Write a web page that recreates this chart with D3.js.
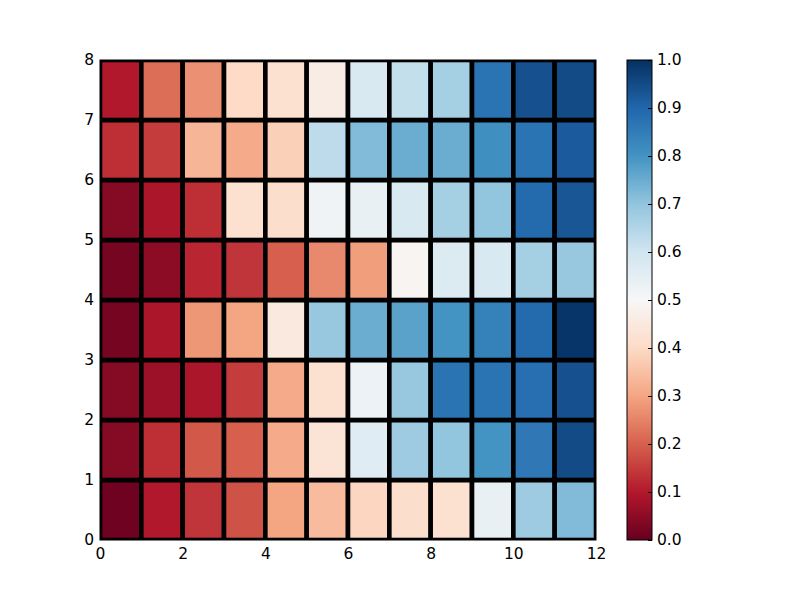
<!DOCTYPE html>
<html>
<head>
<meta charset="utf-8">
<script src="https://cdn.jsdelivr.net/npm/d3@7"></script>
<style>
  body { margin: 0; background: #fff; }
  svg { display: block; }
  text { font-family: "DejaVu Sans", sans-serif; }
</style>
</head>
<body>
<svg id="chart" width="800" height="600"></svg>
<script>
// Grid columns (x) and rows (y)
const xTicks = [0, 2, 4, 6, 8, 10, 12];
const yTicks = [0, 1, 2, 3, 4, 5, 6, 7, 8];
const cbTicks = [0.0, 0.1, 0.2, 0.3, 0.4, 0.5, 0.6, 0.7, 0.8, 0.9, 1.0];

// Values per row, bottom (y=0) to top (y=7), 12 columns each
const row0 = [0.01, 0.10, 0.14, 0.18, 0.30, 0.34, 0.39, 0.41, 0.42, 0.54, 0.68, 0.72];
const row1 = [0.04, 0.13, 0.19, 0.20, 0.31, 0.43, 0.56, 0.68, 0.70, 0.80, 0.86, 0.95];
const row2 = [0.04, 0.07, 0.09, 0.15, 0.31, 0.42, 0.53, 0.69, 0.87, 0.87, 0.88, 0.94];
const row3 = [0.02, 0.09, 0.28, 0.30, 0.45, 0.69, 0.75, 0.77, 0.80, 0.84, 0.89, 0.99];
const row4 = [0.02, 0.05, 0.12, 0.14, 0.20, 0.26, 0.29, 0.49, 0.57, 0.58, 0.67, 0.69];
const row5 = [0.04, 0.09, 0.13, 0.42, 0.41, 0.52, 0.54, 0.58, 0.67, 0.70, 0.89, 0.93];
const row6 = [0.13, 0.15, 0.33, 0.31, 0.38, 0.63, 0.72, 0.75, 0.75, 0.81, 0.87, 0.92];
const row7 = [0.10, 0.22, 0.27, 0.40, 0.42, 0.46, 0.58, 0.62, 0.67, 0.87, 0.94, 0.95];
const rows = [row0, row1, row2, row3, row4, row5, row6, row7];

// Matplotlib RdBu (linear segmented from ColorBrewer 11)
const rdbu = ["#67001f","#b2182b","#d6604d","#f4a582","#fddbc7","#f7f7f7",
              "#d1e5f0","#92c5de","#4393c3","#2166ac","#053061"];

const svg = d3.select("#chart");
const L = 100, R = 596, T = 60, B = 540;

const x = d3.scaleLinear().domain([0, 12]).range([L, R]);
const y = d3.scaleLinear().domain([0, 8]).range([B, T]);
const color = d3.scaleLinear()
  .domain(rdbu.map((_, i) => i / (rdbu.length - 1)))
  .range(rdbu)
  .interpolate(d3.interpolateRgb)
  .clamp(true);

const cells = [];
rows.forEach((r, j) => r.forEach((v, i) => cells.push({i, j, v})));

svg.append("defs").append("clipPath").attr("id", "clip")
  .append("rect").attr("x", L).attr("y", T).attr("width", R - L).attr("height", B - T);

svg.append("g").attr("clip-path", "url(#clip)")
  .selectAll("rect").data(cells).join("rect")
  .attr("x", d => x(d.i))
  .attr("y", d => y(d.j + 1))
  .attr("width", d => x(d.i + 1) - x(d.i))
  .attr("height", d => y(d.j) - y(d.j + 1))
  .attr("fill", d => color(d.v))
  .attr("stroke", "#000")
  .attr("stroke-width", 4.6);

// axes
const xAxis = d3.axisBottom(x).tickValues(xTicks).tickFormat(d3.format("d")).tickSize(0).tickPadding(8);
const yAxis = d3.axisLeft(y).tickValues(yTicks).tickFormat(d3.format("d")).tickSize(0).tickPadding(6);

const gx = svg.append("g").attr("transform", `translate(0,${B})`).call(xAxis);
const gy = svg.append("g").attr("transform", `translate(${L},0)`).call(yAxis);
[gx, gy].forEach(g => {
  g.select(".domain").remove();
  g.selectAll("text").attr("font-size", 15.5).attr("fill", "#000").attr("font-family", "DejaVu Sans");
});

svg.append("rect").attr("x", L).attr("y", T).attr("width", R - L).attr("height", B - T)
  .attr("fill", "none").attr("stroke", "#000").attr("stroke-width", 1);

// colorbar
const cbL = 627, cbR = 652;
const cy = d3.scaleLinear().domain([0, 1]).range([B, T]);
const grad = svg.select("defs").append("linearGradient").attr("id", "cbgrad")
  .attr("x1", 0).attr("y1", 1).attr("x2", 0).attr("y2", 0);
rdbu.forEach((c, i) => grad.append("stop").attr("offset", i / (rdbu.length - 1)).attr("stop-color", c));

svg.append("rect").attr("x", cbL).attr("y", T).attr("width", cbR - cbL).attr("height", B - T)
  .attr("fill", "url(#cbgrad)").attr("stroke", "#000").attr("stroke-width", 1);

const cbAxis = d3.axisRight(cy).tickValues(cbTicks).tickFormat(d3.format(".1f")).tickSize(0).tickPadding(5);
const gc = svg.append("g").attr("transform", `translate(${cbR},0)`).call(cbAxis);
gc.select(".domain").remove();
gc.selectAll("text").attr("font-size", 15.5).attr("fill", "#000").attr("font-family", "DejaVu Sans");
gc.selectAll(".tick").append("line")
  .attr("x1", 0).attr("x2", -4).attr("y1", 0).attr("y2", 0)
  .attr("stroke", "#000").attr("stroke-width", 1);
</script>
</body>
</html>
